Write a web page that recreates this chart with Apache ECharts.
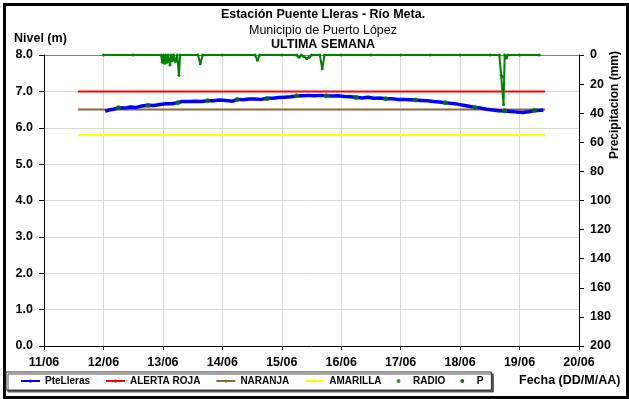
<!DOCTYPE html>
<html><head><meta charset="utf-8">
<script src="https://cdn.jsdelivr.net/npm/echarts@6/dist/echarts.min.js"></script>
<style>html,body{margin:0;padding:0;background:#fff}#c{width:629px;height:399px}</style>
</head><body><div id="c"></div>
<script>
// x values are days of June (fractional)
var dayTicks = ['11/06','12/06','13/06','14/06','15/06','16/06','17/06','18/06','19/06','20/06'];
var levelTimes = [12.03,12.10,12.20,12.25,12.35,12.45,12.55,12.65,12.75,12.85,12.95,13.05,13.15,13.25,13.32,13.45,13.55,13.65,13.75,13.85,13.95,14.05,14.18,14.25,14.35,14.45,14.55,14.65,14.75,14.85,14.95,15.05,15.15,15.25,15.35,15.45,15.55,15.65,15.75,15.85,15.95,16.05,16.15,16.25,16.35,16.45,16.55,16.65,16.75,16.85,16.95,17.05,17.15,17.25,17.35,17.45,17.55,17.65,17.75,17.85,17.95,18.05,18.15,18.25,18.35,18.45,18.55,18.65,18.75,18.85,18.95,19.05,19.15,19.25,19.35,19.40];
var levelValues = [6.45,6.49,6.52,6.55,6.54,6.57,6.56,6.60,6.62,6.61,6.64,6.66,6.66,6.69,6.72,6.72,6.73,6.72,6.74,6.74,6.76,6.75,6.73,6.78,6.77,6.79,6.79,6.78,6.81,6.81,6.83,6.84,6.85,6.87,6.88,6.89,6.88,6.89,6.88,6.87,6.88,6.86,6.85,6.84,6.82,6.84,6.81,6.82,6.80,6.80,6.78,6.78,6.77,6.76,6.75,6.74,6.72,6.71,6.69,6.67,6.65,6.62,6.59,6.56,6.54,6.51,6.49,6.47,6.46,6.45,6.43,6.42,6.44,6.47,6.48,6.49];
var radioTimes = [12.25,12.75,13.25,13.75,14.25,14.75,15.25,15.75,16.25,16.75,17.25,17.75,18.25,18.75,19.25];
var radioValues = [6.55,6.62,6.69,6.74,6.78,6.80,6.88,6.88,6.83,6.80,6.76,6.69,6.56,6.47,6.48];
var precipTimes = [12.00,12.50,12.97,12.99,13.01,13.03,13.05,13.07,13.09,13.12,13.14,13.16,13.18,13.21,13.24,13.27,13.29,13.59,13.63,13.67,14.00,14.55,14.59,14.63,15.00,15.25,15.29,15.33,15.37,15.42,15.46,15.50,15.64,15.68,15.72,16.00,16.50,17.00,17.50,18.00,18.50,18.66,18.69,18.71,18.73,18.75,18.78,18.80,19.00,19.33];
var precipValues = [0,0,0,5.0,0,5.6,0,5.0,0,6.8,0,4.0,0,4.5,0,14.0,0,0,6.0,0,0,0,3.6,0,0,0,1.5,0,1.0,2.5,1.5,0,0,9.5,0,0,0,0,0,0,0,0,14.0,15.0,34.0,0,2.0,0,0,0];
var alertNames = ['ALERTA ROJA','NARANJA','AMARILLA'];
var alertLevels = [7.0, 6.5, 5.8];
var alertStart = 11.57, alertEnd = 19.43;

function pairs(xs, ys){ return xs.map(function(x,i){ return [x, ys[i]]; }); }
var FONT = 'Liberation Sans, Arial, sans-serif';
var chart = echarts.init(document.getElementById('c'));
var alertColors = ['#ff0000','#996633','#ffff00'];
var series = [
  {name:'PteLleras', type:'line', data:pairs(levelTimes, levelValues), symbol:'none', lineStyle:{color:'#0000ff', width:3.5}, itemStyle:{color:'#0000ff'}, z:3}
];
alertNames.forEach(function(n,i){
  series.push({name:n, type:'line', data:[[alertStart, alertLevels[i]],[alertEnd, alertLevels[i]]], symbol:'none', lineStyle:{color:alertColors[i], width:2}, itemStyle:{color:alertColors[i]}, z:2});
});
series.push({name:'RADIO', type:'scatter', data:pairs(radioTimes, radioValues), symbol:'circle', symbolSize:5, itemStyle:{color:'#008000'}, z:4});
series.push({name:'P', type:'line', yAxisIndex:1, data:pairs(precipTimes, precipValues), symbol:'circle', symbolSize:3, showSymbol:true, lineStyle:{color:'#008000', width:2}, itemStyle:{color:'#008000'}, z:4});

var splitColors = ['#d9d9d9','#d9d9d9','#d9d9d9','#d9d9d9','#d9d9d9','#d9d9d9','#d9d9d9','#d9d9d9','#808080'];
var LBL = {fontSize:12.5, fontWeight:'bold', color:'#000', fontFamily:FONT};
chart.setOption({
  animation:false,
  textStyle:{fontFamily:FONT},
  grid:{left:44, right:50, top:55, bottom:53},
  legend:{
    left:6, top:372, padding:[4,8,4,14], itemGap:15, itemWidth:19, itemHeight:4,
    borderColor:'#333', borderWidth:1, backgroundColor:'#fff',
    shadowColor:'#555', shadowOffsetX:2, shadowOffsetY:2, shadowBlur:0,
    textStyle:{fontSize:10, fontWeight:'bold', color:'#000', fontFamily:FONT},
    data:[{name:'PteLleras'},{name:'ALERTA ROJA'},{name:'NARANJA'},{name:'AMARILLA'},{name:'RADIO', icon:'circle'},{name:'P', icon:'circle'}]
  },
  xAxis:{
    type:'value', min:11, max:20, interval:1,
    axisLine:{lineStyle:{color:'#000', width:1}},
    axisTick:{show:true, length:4, lineStyle:{color:'#000'}},
    axisLabel:Object.assign({margin:10, formatter:function(v){ return dayTicks[Math.round(v-11)] || ''; }}, LBL),
    splitLine:{show:true, lineStyle:{color:'#d9d9d9', width:1}}
  },
  yAxis:[
    {type:'value', min:0, max:8, interval:1,
     axisLine:{show:true, lineStyle:{color:'#000'}},
     axisTick:{show:true, length:5, lineStyle:{color:'#000'}},
     axisLabel:Object.assign({margin:11, formatter:function(v){return v.toFixed(1);}}, LBL),
     splitLine:{show:true, lineStyle:{color:splitColors, width:1}}},
    {type:'value', min:0, max:200, interval:20, inverse:true, position:'right',
     axisLine:{show:true, lineStyle:{color:'#000'}},
     axisTick:{show:true, length:5, lineStyle:{color:'#000'}},
     axisLabel:Object.assign({margin:11}, LBL),
     splitLine:{show:false}}
  ],
  graphic:[
    {type:'rect', left:2, top:2, shape:{width:623, height:393}, style:{fill:'none', stroke:'#000', lineWidth:3}, silent:true, z:-1},
    {type:'text', x:323, y:15, style:{text:'Estación Puente Lleras - Río Meta.', font:'bold 12.5px '+FONT, fill:'#000', align:'center', verticalAlign:'middle'}},
    {type:'text', x:323, y:31, style:{text:'Municipio de Puerto López', font:'12.5px '+FONT, fill:'#000', align:'center', verticalAlign:'middle'}},
    {type:'text', x:323, y:45, style:{text:'ULTIMA SEMANA', font:'bold 12.5px '+FONT, fill:'#000', align:'center', verticalAlign:'middle'}},
    {type:'text', x:14, y:39, style:{text:'Nivel (m)', font:'bold 12.5px '+FONT, fill:'#000', verticalAlign:'middle'}},
    {type:'text', x:519, y:381, style:{text:'Fecha (DD/M/AA)', font:'bold 12.5px '+FONT, fill:'#000', verticalAlign:'middle'}},
    {type:'text', x:615, y:105, rotation:Math.PI/2, style:{text:'Precipitacion (mm)', font:'bold 12px '+FONT, fill:'#000', align:'center', verticalAlign:'middle'}}
  ],
  series:series
});
</script></body></html>
